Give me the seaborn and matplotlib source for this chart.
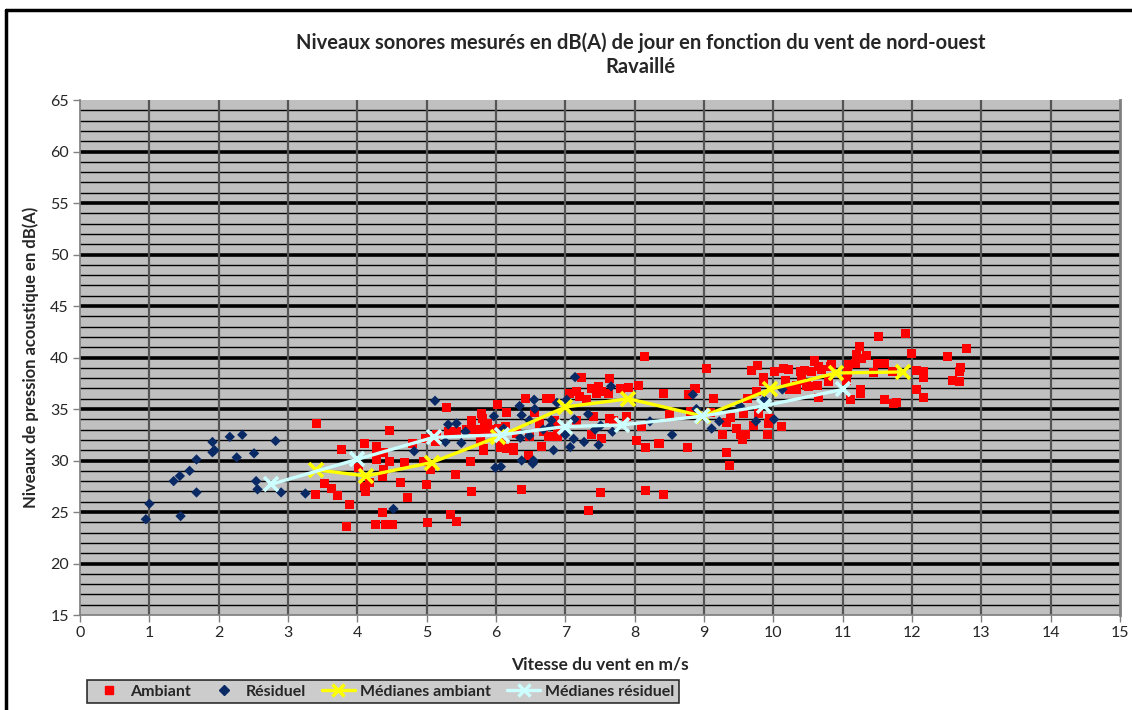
"""
Niveaux sonores mesurés en dB(A) de jour en fonction du vent de nord-ouest — Ravaillé.
Scatter of ambient / residual levels against wind speed, with median curves.
"""

import numpy as np
import pandas as pd
import matplotlib
matplotlib.use("Agg")
import matplotlib.pyplot as plt
from matplotlib.lines import Line2D
import seaborn as sns

# ── Data ─────────────────────────────────────────────────────────────────────
ambiant_vent = [
    3.41, 3.39, 3.53, 3.63, 3.71, 3.77, 3.89, 3.85, 4.02, 4.10, 4.11, 4.12, 4.17,
    4.28, 4.28, 4.28, 4.38, 4.37, 4.36, 4.36, 4.26, 4.40, 4.50, 4.46, 4.46, 4.62,
    4.68, 4.73, 4.80, 4.95, 5.00, 5.01, 5.06, 4.99, 5.12, 5.14, 5.29, 5.31, 5.34,
    5.41, 5.43, 5.43, 5.58, 5.70, 5.65, 5.79, 5.81, 5.84, 5.77, 5.82, 5.63, 5.64,
    5.80, 5.87, 5.87, 5.96, 6.02, 6.15, 6.03, 6.13, 5.82, 6.06, 6.15, 6.25, 6.08,
    6.30, 6.25, 6.47, 6.49, 6.75, 6.66, 6.88, 6.85, 6.63, 6.56, 6.42, 6.73, 6.78,
    7.06, 7.16, 7.21, 7.31, 7.45, 7.62, 7.24, 7.64, 7.48, 7.38, 7.52, 7.79, 7.91,
    8.05, 8.14, 7.69, 7.40, 7.16, 7.64, 7.88, 8.10, 6.68, 6.88, 7.38, 7.52, 8.03,
    8.15, 8.34, 6.37, 7.51, 8.15, 8.41, 7.33, 9.03, 9.69, 9.77, 9.86, 10.01, 10.14,
    10.22, 10.41, 10.55, 10.60, 9.86, 10.17, 10.34, 10.48, 9.76, 10.23, 8.87, 8.77,
    8.41, 9.13, 9.63, 9.57, 8.50, 8.80, 9.10, 9.38, 9.32, 9.78, 9.95, 9.93, 9.71,
    10.12, 9.47, 9.52, 9.60, 9.56, 9.26, 9.91, 8.36, 8.76, 9.33, 9.37, 11.52, 11.90,
    11.24, 11.20, 11.34, 11.27, 11.99, 12.51, 12.79, 10.59, 10.65, 10.82, 11.08,
    11.18, 11.50, 11.60, 11.07, 11.45, 11.72, 12.07, 12.17, 12.17, 12.70, 12.68,
    12.59, 12.68, 12.06, 12.16, 11.26, 11.26, 11.12, 11.61, 11.74, 11.78, 10.65,
    11.06, 10.50, 10.63, 10.79, 10.45, 10.70, 10.24, 10.34, 10.39, 10.41, 10.79,
    10.84,
]
ambiant_db = [
    33.6, 26.7, 27.8, 27.3, 26.6, 31.1, 25.7, 23.6, 29.3, 31.7, 27.5, 27.0, 27.9,
    31.4, 30.9, 30.1, 30.8, 29.1, 28.4, 25.0, 23.8, 23.8, 23.8, 29.9, 32.9, 27.9,
    29.8, 26.4, 31.7, 29.9, 27.7, 24.0, 29.1, 32.1, 31.8, 32.5, 35.1, 32.8, 24.8,
    28.6, 24.1, 32.8, 33.0, 33.0, 33.9, 34.6, 34.1, 33.4, 32.0, 31.0, 29.9, 27.0,
    32.8, 33.0, 33.6, 33.0, 35.4, 34.7, 33.1, 33.3, 31.2, 31.3, 31.2, 31.3, 32.0,
    32.6, 31.0, 30.5, 32.3, 32.3, 31.4, 33.1, 33.9, 33.6, 34.7, 36.0, 36.0, 36.0,
    36.5, 36.7, 36.2, 35.9, 36.5, 36.5, 38.1, 38.0, 37.2, 37.0, 36.7, 37.0, 37.1,
    37.3, 40.1, 33.9, 34.3, 33.9, 34.1, 34.3, 33.3, 32.8, 32.3, 32.5, 32.1, 31.9,
    31.3, 31.7, 27.2, 26.9, 27.1, 26.7, 25.1, 38.9, 38.7, 39.2, 38.1, 38.6, 38.9,
    38.8, 38.6, 38.6, 39.6, 37.7, 37.8, 37.3, 37.3, 36.7, 36.9, 37.0, 36.4,
    36.5, 36.0, 36.0, 34.6, 34.5, 34.8, 34.7, 34.2, 33.7, 34.6, 34.1, 33.6, 33.4,
    33.3, 33.1, 32.5, 32.5, 32.0, 32.5, 32.5, 31.7, 31.3, 30.8, 29.5, 42.0, 42.3,
    41.1, 40.3, 40.2, 39.9, 40.4, 40.1, 40.9, 39.7, 39.1, 39.1, 39.3,
    39.4, 39.4, 39.4, 38.5, 38.5, 38.6, 38.7, 38.6, 38.1, 39.0, 38.6,
    37.8, 37.7, 36.9, 36.1, 36.9, 36.5, 35.9, 35.9, 35.5, 35.6, 36.1,
    37.8, 37.2, 37.3, 37.7, 38.7, 38.8, 36.9, 36.9, 38.6, 37.8, 37.8,
    39.3,
]

residuel_vent = [
    0.95, 1.00, 1.35, 1.44, 1.45, 1.58, 1.68, 1.68, 1.91, 1.91, 1.94, 2.16, 2.34,
    2.26, 2.51, 2.54, 2.56, 2.82, 2.90, 3.25, 4.52, 4.82, 5.12, 5.31, 5.43, 5.27,
    5.50, 5.56, 5.97, 5.99, 6.07, 7.14, 7.66, 7.02, 6.88, 6.55, 6.34, 6.56, 6.37,
    6.48, 6.80, 7.13, 7.33, 7.51, 6.78, 6.68, 6.11, 7.43, 7.68, 8.22, 6.48, 6.35,
    7.12, 7.27, 7.07, 7.48, 6.83, 6.37, 6.54, 6.53, 7.00, 8.84, 8.89, 8.54, 9.11,
    9.22, 9.52, 9.75, 9.87, 10.01, 10.13,
]
residuel_db = [
    24.3, 25.8, 28.0, 28.5, 24.6, 29.0, 30.1, 26.9, 31.8, 30.8, 31.0, 32.3, 32.5,
    30.3, 30.7, 28.0, 27.2, 31.9, 26.9, 26.8, 25.3, 30.9, 35.8, 33.5, 33.6, 31.8,
    31.7, 32.8, 34.3, 29.3, 29.4, 38.1, 37.2, 35.9, 35.6, 35.9, 35.3, 35.0, 34.4,
    33.9, 33.9, 34.0, 34.5, 33.4, 33.3, 33.0, 33.1, 33.0, 32.8, 33.8, 32.4, 32.2,
    32.1, 31.8, 31.3, 31.5, 31.0, 30.0, 30.0, 29.7, 32.5, 36.4, 35.0, 32.5, 33.1,
    33.8, 35.3, 33.8, 35.9, 34.0, 36.9,
]

med_amb_vent = [3.40, 4.13, 5.07, 6.03, 7.00, 7.91, 8.99, 9.95, 10.91, 11.87]
med_amb_db   = [29.1, 28.5, 29.8, 32.3, 35.2, 36.0, 34.3, 36.9, 38.5, 38.6]
med_res_vent = [2.76, 3.99, 5.10, 6.08, 7.00, 7.81, 8.97, 9.86, 11.00]
med_res_db   = [27.7, 30.1, 32.25, 32.5, 33.3, 33.45, 34.3, 35.3, 36.9]

# ── Style ────────────────────────────────────────────────────────────────────
sns.set_theme(style="white")
plt.rcParams["font.family"] = ["Lato", "DejaVu Sans"]

RED, NAVY = "#FF0000", "#0A2A66"
YELLOW, CYAN = "#FFFF00", "#CCFFFF"

amb = pd.DataFrame({"vent": ambiant_vent, "db": ambiant_db})
res = pd.DataFrame({"vent": residuel_vent, "db": residuel_db})
m_amb = pd.DataFrame({"vent": med_amb_vent, "db": med_amb_db})
m_res = pd.DataFrame({"vent": med_res_vent, "db": med_res_db})

fig = plt.figure(figsize=(11.32, 7.10), dpi=100)
ax = fig.add_axes([0.0707, 0.1338, 0.9187, 0.7253])
ax.set_facecolor("#C0C0C0")

# grid: minor every 1 dB, major every 5 dB, vertical every 1 m/s
for v in np.arange(16, 65, 1):
    if v % 5:
        ax.axhline(v, color="black", lw=1.0, zorder=1)
for v in np.arange(20, 65, 5):
    ax.axhline(v, color="black", lw=2.6, zorder=1)
for v in range(1, 15):
    ax.axvline(v, color="#555555", lw=1.6, zorder=1)

sns.scatterplot(data=amb, x="vent", y="db", marker="s", s=42, color=RED,
                edgecolor="none", ax=ax, zorder=3, legend=False)
sns.scatterplot(data=res, x="vent", y="db", marker="D", s=28, color=NAVY,
                edgecolor="none", ax=ax, zorder=4, legend=False)
sns.lineplot(data=m_amb, x="vent", y="db", sort=False, estimator=None, color=YELLOW,
             lw=2.4, marker="x", markersize=10, markeredgewidth=2.6,
             markeredgecolor=YELLOW, ax=ax, zorder=5)
sns.lineplot(data=m_res, x="vent", y="db", sort=False, estimator=None, color=CYAN,
             lw=2.4, marker="x", markersize=10, markeredgewidth=2.6,
             markeredgecolor=CYAN, ax=ax, zorder=6)

ax.set_xlim(0, 15)
ax.set_ylim(15, 65)
ax.set_xticks(range(0, 16))
ax.set_yticks(range(15, 66, 5))
ax.tick_params(axis="both", labelsize=11.5, length=5, width=1, color="#808080",
               direction="out", bottom=True, left=True, pad=3)
ax.spines["top"].set_visible(False)
ax.spines["left"].set_color("#808080")
ax.spines["bottom"].set_color("#808080")
ax.spines["right"].set_color("#808080")
ax.spines["right"].set_linewidth(2)

ax.set_xlabel("Vitesse du vent en m/s", fontsize=12.5, fontweight="bold", labelpad=12)
ax.set_ylabel("Niveaux de pression acoustique en dB(A)", fontsize=12,
              fontweight="bold", labelpad=8)

fig.text(0.566, 0.94, "Niveaux sonores mesurés en dB(A) de jour en fonction du vent de nord-ouest",
         ha="center", va="center", fontsize=14.5, fontweight="bold")
fig.text(0.566, 0.906, "Ravaillé", ha="center", va="center", fontsize=14.5,
         fontweight="bold")

# outer chart frame (left and top)
fig.add_artist(Line2D([0.005, 0.005], [0.0, 0.986], color="black", lw=2.5))
fig.add_artist(Line2D([0.005, 1.0], [0.986, 0.986], color="black", lw=2.5))

handles = [
    Line2D([], [], ls="none", marker="s", ms=6, color=RED),
    Line2D([], [], ls="none", marker="D", ms=5, color=NAVY),
    Line2D([], [], color=YELLOW, lw=2.4, marker="x", ms=9, mew=2.4),
    Line2D([], [], color=CYAN, lw=2.4, marker="x", ms=9, mew=2.4),
]
labels = ["Ambiant", "Résiduel", "Médianes ambiant", "Médianes résiduel"]
leg = fig.legend(handles, labels, loc="center left", bbox_to_anchor=(0.070, 0.026),
                 ncol=4, frameon=True, fancybox=False,
                 prop={"weight": "bold", "size": 11.5}, handlelength=2.1,
                 columnspacing=1.0, handletextpad=0.3, borderpad=0.3)
leg.get_frame().set_facecolor("#C0C0C0")
leg.get_frame().set_edgecolor("black")
leg.get_frame().set_linewidth(1.2)

fig.savefig("out.png", dpi=100)
